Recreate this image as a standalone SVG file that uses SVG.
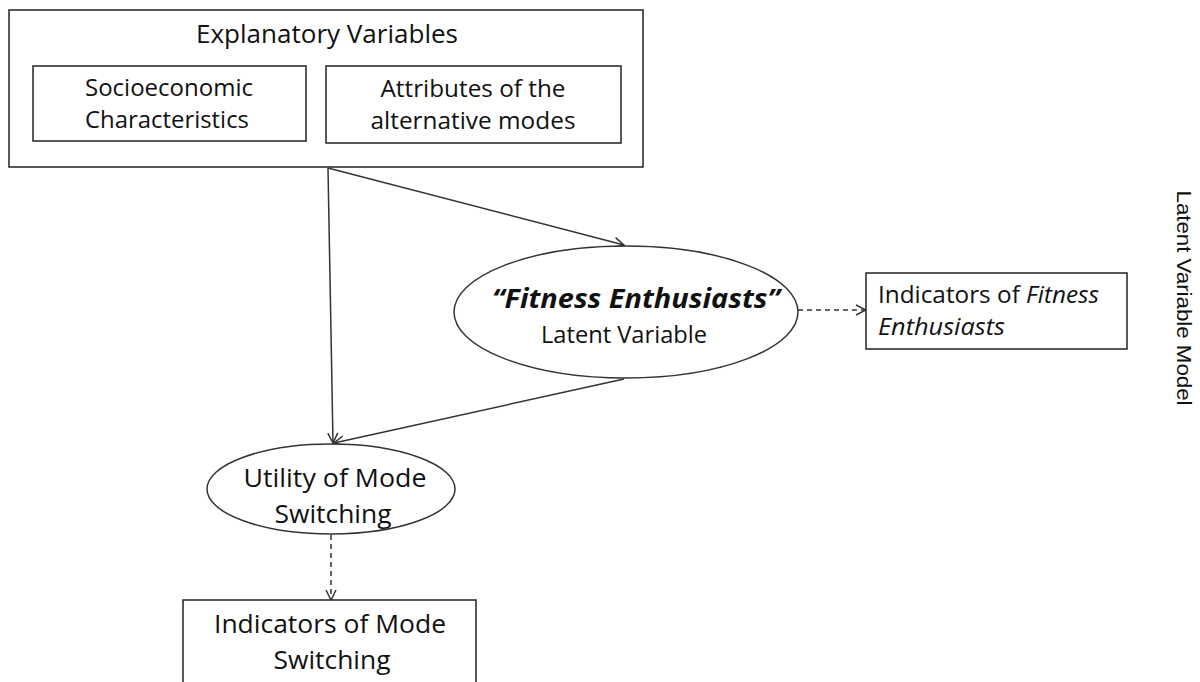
<svg xmlns="http://www.w3.org/2000/svg" width="1200" height="682" viewBox="0 0 1200 682">
<style>
.box{fill:#fff;stroke:#222;stroke-width:1.5}
.ell{fill:#fff;stroke:#333;stroke-width:1.5}
.t{font-family:"Open Sans","Liberation Sans",sans-serif;fill:#111;text-anchor:middle}
.solid{stroke:#333;stroke-width:1.5;fill:none;marker-end:url(#arr)}
.dash{stroke:#333;stroke-width:1.5;fill:none;stroke-dasharray:5,4;marker-end:url(#arr)}
</style>
<defs>
<marker id="arr" viewBox="0 0 12 12" refX="11" refY="6" markerWidth="12" markerHeight="12" markerUnits="userSpaceOnUse" orient="auto">
<path d="M1,1 L11,6 L1,11" fill="none" stroke="#333" stroke-width="1.5"/>
</marker>
</defs>
<g id="explanatory">
<rect class="box" x="9" y="10" width="634" height="157"/>
<text class="t" x="327" y="43" font-size="25" textLength="262" lengthAdjust="spacingAndGlyphs">Explanatory Variables</text>
</g>
<g id="socio">
<rect class="box" x="33" y="66" width="273" height="75"/>
<text class="t" x="169" y="96" font-size="23" textLength="168" lengthAdjust="spacingAndGlyphs">Socioeconomic</text>
<text class="t" x="167" y="128" font-size="23" textLength="164" lengthAdjust="spacingAndGlyphs">Characteristics</text>
</g>
<g id="attributes">
<rect class="box" x="326" y="66" width="295" height="77"/>
<text class="t" x="473" y="97" font-size="23" textLength="185" lengthAdjust="spacingAndGlyphs">Attributes of the</text>
<text class="t" x="473" y="129" font-size="23" textLength="205" lengthAdjust="spacingAndGlyphs">alternative  modes</text>
</g>
<g id="connectors">
<line class="solid" x1="328" y1="168" x2="333" y2="443"/>
<line class="solid" x1="328" y1="168" x2="624" y2="245"/>
<line class="solid" x1="624" y1="379" x2="334" y2="443"/>
<line class="dash" x1="798" y1="310" x2="866" y2="310"/>
<line class="dash" x1="331" y1="535" x2="331" y2="600"/>
</g>
<g id="fitness">
<ellipse class="ell" cx="626" cy="312" rx="172" ry="66"/>
<text class="t" x="636" y="308" font-size="26" font-weight="bold" font-style="italic" textLength="288" lengthAdjust="spacingAndGlyphs">“Fitness Enthusiasts”</text>
<text class="t" x="624" y="343" font-size="23" textLength="166" lengthAdjust="spacingAndGlyphs">Latent Variable</text>
</g>
<g id="indicators-fitness">
<rect class="box" x="866" y="273" width="261" height="76"/>
<text class="t" x="878" y="303" font-size="23" style="text-anchor:start" textLength="221" lengthAdjust="spacingAndGlyphs">Indicators of <tspan font-style="italic">Fitness</tspan></text>
<text class="t" x="878" y="335" font-size="23" font-style="italic" style="text-anchor:start" textLength="127" lengthAdjust="spacingAndGlyphs">Enthusiasts</text>
</g>
<g id="utility">
<ellipse class="ell" cx="331" cy="489" rx="124" ry="45"/>
<text class="t" x="335" y="487" font-size="25" textLength="183" lengthAdjust="spacingAndGlyphs">Utility of Mode</text>
<text class="t" x="333" y="523" font-size="25" textLength="117" lengthAdjust="spacingAndGlyphs">Switching</text>
</g>
<g id="indicators-mode">
<rect class="box" x="183" y="600" width="293" height="95"/>
<text class="t" x="330" y="633" font-size="25" textLength="232" lengthAdjust="spacingAndGlyphs">Indicators of Mode</text>
<text class="t" x="332" y="669" font-size="25" textLength="117" lengthAdjust="spacingAndGlyphs">Switching</text>
</g>
<g id="side-label">
<text x="1177" y="298" font-family="Liberation Sans, Arial, sans-serif" font-size="21" fill="#111" text-anchor="middle" transform="rotate(90 1177 298)" textLength="215" lengthAdjust="spacingAndGlyphs">Latent Variable Model</text>
</g>
</svg>
